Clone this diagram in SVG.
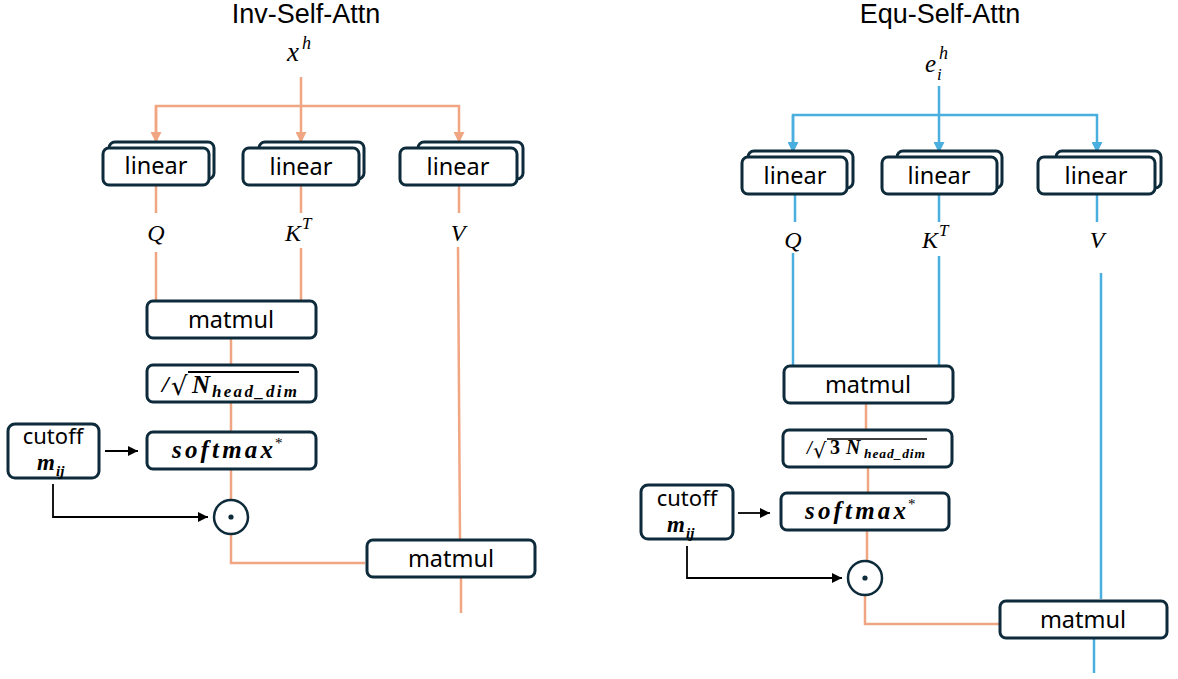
<svg xmlns="http://www.w3.org/2000/svg" width="1178" height="679" viewBox="0 0 1178 679">
<defs>
<style>
.box{fill:#fff;stroke:#0d2b3a;stroke-width:3}
.lbl{font-family:"Noto Sans","Liberation Sans",sans-serif;font-size:23.5px;fill:#000;text-anchor:middle}
.ttl{font-family:"Liberation Sans",Arial,sans-serif;font-size:27px;fill:#000;text-anchor:middle}
.math{font-family:"Liberation Serif","DejaVu Serif",serif;font-style:italic;fill:#000}
.bm{font-family:"Liberation Serif","DejaVu Serif",serif;font-style:italic;font-weight:bold;fill:#000}
.or{fill:none;stroke:#f0a683;stroke-width:2.5}
.bl{fill:none;stroke:#4aaede;stroke-width:2.5}
.bk{fill:none;stroke:#000;stroke-width:1.8}
.circ{fill:#fff;stroke:#0d2b3a;stroke-width:2.5}
</style>
<marker id="aor" viewBox="0 0 10 10" refX="10" refY="5" markerWidth="11" markerHeight="11" markerUnits="userSpaceOnUse" orient="auto"><path d="M0,0L10,5L0,10z" fill="#f0a683"/></marker>
<marker id="abl" viewBox="0 0 10 10" refX="10" refY="5" markerWidth="11" markerHeight="11" markerUnits="userSpaceOnUse" orient="auto"><path d="M0,0L10,5L0,10z" fill="#4aaede"/></marker>
<marker id="abk" viewBox="0 0 10 10" refX="10" refY="5" markerWidth="10" markerHeight="10" markerUnits="userSpaceOnUse" orient="auto"><path d="M0,0L10,5L0,10z" fill="#000"/></marker>
</defs>
<rect width="1178" height="679" fill="#fff"/>

<text class="ttl" x="306" y="23">Inv-Self-Attn</text>
<text class="ttl" x="940" y="23">Equ-Self-Attn</text>

<g id="connectors">
<!-- left -->
<path class="or" d="M301,77V143" marker-end="url(#aor)"/>
<path class="or" d="M156,143V106H459V143" marker-end="url(#aor)"/>
<path class="or" d="M156,106V143" marker-end="url(#aor)"/>
<path class="or" d="M156,185V213M301,185V213M459,185V213"/>
<path class="or" d="M156,252V300M301,248V300M458,247L460,539"/>
<path class="or" d="M231,338V365M231,402V432M231,469V500M231,534V563H365M461,578V613"/>
<path class="bk" d="M105,451H138" marker-end="url(#abk)"/>
<path class="bk" d="M53,484V517H208" marker-end="url(#abk)"/>
<!-- right -->
<path class="bl" d="M939,86V153" marker-end="url(#abl)"/>
<path class="bl" d="M793,153V115H1097V153" marker-end="url(#abl)"/>
<path class="bl" d="M793,115V153" marker-end="url(#abl)"/>
<path class="bl" d="M795,193V222M939,193V222M1097,193V222"/>
<path class="bl" d="M793,253V366M939,256V366M1101,273V599M1094,639V673"/>
<path class="or" d="M866,404V430M868,467V493M867,530V561M865,595V624H999"/>
<path class="bk" d="M738,513H770" marker-end="url(#abk)"/>
<path class="bk" d="M687,546V578H842" marker-end="url(#abk)"/>
</g>

<!-- left nodes -->
<g id="L-xh"><text class="math" x="287" y="61" font-size="27">x</text><text class="math" x="302" y="49" font-size="18">h</text></g>
<g id="L-linQ"><rect class="box" x="109" y="142" width="105" height="37" rx="6"/><rect class="box" x="103" y="148" width="106" height="37" rx="6"/><text class="lbl" x="156" y="174">linear</text></g>
<g id="L-linK"><rect class="box" x="259" y="142" width="105" height="37" rx="6"/><rect class="box" x="243" y="148" width="116" height="37" rx="6"/><text class="lbl" x="301" y="175">linear</text></g>
<g id="L-linV"><rect class="box" x="418" y="142" width="105" height="37" rx="6"/><rect class="box" x="400" y="148" width="117" height="37" rx="6"/><text class="lbl" x="458" y="175">linear</text></g>
<g id="L-Q"><text class="math" x="156" y="241" font-size="24" text-anchor="middle">Q</text></g>
<g id="L-K"><text class="math" x="285" y="241" font-size="24">K</text><text class="math" x="302" y="229" font-size="17">T</text></g>
<g id="L-V"><text class="math" x="458" y="241" font-size="24" text-anchor="middle">V</text></g>
<g id="L-matmul1"><rect class="box" x="147" y="301" width="169" height="37" rx="6"/><text class="lbl" x="231" y="328">matmul</text></g>
<g id="L-scale"><rect class="box" x="147" y="365" width="169" height="37" rx="6"/>
<text class="bm" x="162" y="392" font-size="24">/</text>
<text x="171" y="395" font-family="'DejaVu Serif',serif" font-size="26" fill="#000">√</text>
<line x1="188" y1="372" x2="299" y2="372" stroke="#000" stroke-width="1.8"/>
<text class="bm" x="192" y="393" font-size="25">N</text>
<text class="bm" x="212" y="397" font-size="17" textLength="85" lengthAdjust="spacing">head_dim</text></g>
<g id="L-softmax"><rect class="box" x="147" y="432" width="169" height="37" rx="6"/><text class="bm" x="172" y="458" font-size="25" textLength="101" lengthAdjust="spacing">softmax</text><text x="275" y="448" font-family="'Liberation Serif',serif" font-size="15" fill="#000">*</text></g>
<g id="L-cutoff"><rect class="box" x="8" y="424" width="91" height="54" rx="7"/><text class="lbl" x="53" y="444" style="font-size:22px">cutoff</text><text class="bm" x="37" y="470" font-size="23">m</text><text class="bm" x="56" y="476" font-size="15">ij</text></g>
<g id="L-odot"><circle class="circ" cx="231" cy="517" r="17"/><circle cx="231" cy="517" r="2.6" fill="#0d2b3a"/></g>
<g id="L-matmul2"><rect class="box" x="367" y="540" width="168" height="37" rx="6"/><text class="lbl" x="451" y="567">matmul</text></g>

<!-- right nodes -->
<g id="R-eh"><text class="math" x="925" y="72" font-size="25">e</text><text class="math" x="937" y="80" font-size="17">i</text><text class="math" x="939" y="59" font-size="18">h</text></g>
<g id="R-linQ"><rect class="box" x="748" y="151" width="105" height="37" rx="6"/><rect class="box" x="742" y="157" width="105" height="37" rx="6"/><text class="lbl" x="795" y="184">linear</text></g>
<g id="R-linK"><rect class="box" x="897" y="151" width="105" height="37" rx="6"/><rect class="box" x="882" y="157" width="115" height="37" rx="6"/><text class="lbl" x="939" y="184">linear</text></g>
<g id="R-linV"><rect class="box" x="1056" y="151" width="105" height="37" rx="6"/><rect class="box" x="1038" y="157" width="117" height="37" rx="6"/><text class="lbl" x="1096" y="184">linear</text></g>
<g id="R-Q"><text class="math" x="793" y="248" font-size="24" text-anchor="middle">Q</text></g>
<g id="R-K"><text class="math" x="922" y="248" font-size="24">K</text><text class="math" x="939" y="236" font-size="17">T</text></g>
<g id="R-V"><text class="math" x="1097" y="248" font-size="24" text-anchor="middle">V</text></g>
<g id="R-matmul1"><rect class="box" x="784" y="366" width="169" height="37" rx="6"/><text class="lbl" x="868" y="393">matmul</text></g>
<g id="R-scale"><rect class="box" x="783" y="430" width="169" height="37" rx="6"/>
<text class="bm" x="807" y="454" font-size="18">/</text>
<text x="813" y="458" font-family="'DejaVu Serif',serif" font-size="21" fill="#000">√</text>
<line x1="827" y1="439" x2="927" y2="439" stroke="#000" stroke-width="1.5"/>
<text x="830" y="454" font-family="'Liberation Serif',serif" font-weight="bold" font-size="20" fill="#000">3</text>
<text class="bm" x="846" y="454" font-size="20">N</text>
<text class="bm" x="864" y="458" font-size="13.5" textLength="61" lengthAdjust="spacing">head_dim</text></g>
<g id="R-softmax"><rect class="box" x="781" y="493" width="168" height="37" rx="6"/><text class="bm" x="805" y="519" font-size="25" textLength="101" lengthAdjust="spacing">softmax</text><text x="908" y="509" font-family="'Liberation Serif',serif" font-size="15" fill="#000">*</text></g>
<g id="R-cutoff"><rect class="box" x="641" y="485" width="92" height="54" rx="7"/><text class="lbl" x="687" y="506" style="font-size:22px">cutoff</text><text class="bm" x="667" y="532" font-size="23">m</text><text class="bm" x="686" y="538" font-size="15">ij</text></g>
<g id="R-odot"><circle class="circ" cx="865" cy="578" r="17"/><circle cx="865" cy="578" r="2.6" fill="#0d2b3a"/></g>
<g id="R-matmul2"><rect class="box" x="1000" y="601" width="167" height="37" rx="6"/><text class="lbl" x="1083" y="628">matmul</text></g>
</svg>
